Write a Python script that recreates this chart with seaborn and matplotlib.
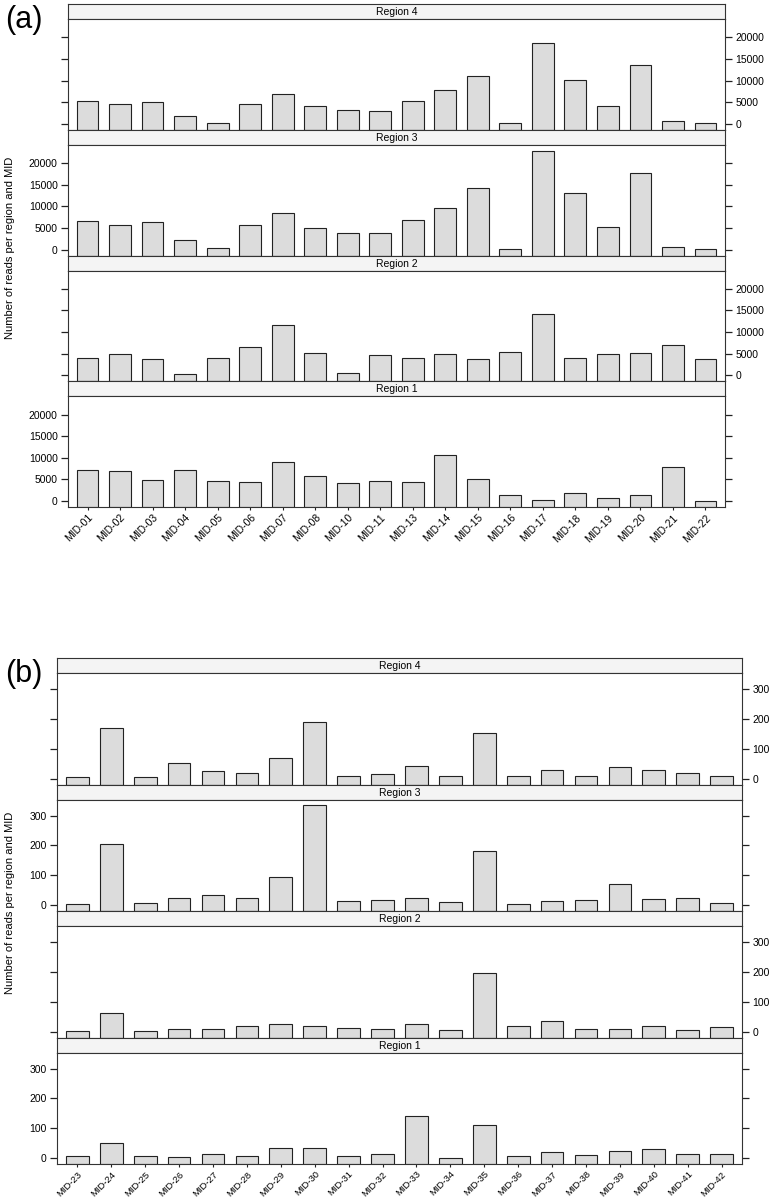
import numpy as np
import pandas as pd
import seaborn as sns
import matplotlib
matplotlib.use("Agg")
import matplotlib.pyplot as plt

# Data (reads per region and MID)
MIDS_A = ["MID-01", "MID-02", "MID-03", "MID-04", "MID-05", "MID-06", "MID-07",
          "MID-08", "MID-10", "MID-11", "MID-13", "MID-14", "MID-15", "MID-16",
          "MID-17", "MID-18", "MID-19", "MID-20", "MID-21", "MID-22"]
REGION4_A = [5170, 4480, 4940, 1780, 150, 4560, 6870, 4170, 3170, 3010,
             5330, 7720, 11040, 150, 18760, 10120, 4090, 13510, 540, 150]
REGION3_A = [6540, 5680, 6300, 2260, 310, 5680, 8560, 5060, 3890, 3890,
             6930, 9730, 14320, 50, 22880, 13000, 5290, 17820, 620, 230]
REGION2_A = [4060, 4840, 3830, 400, 4060, 6480, 11560, 5080, 550, 4690,
             4060, 4840, 3830, 5470, 14220, 4060, 4840, 5230, 7030, 3830]
REGION1_A = [7160, 7000, 4980, 7160, 4750, 4510, 8950, 5910, 4120, 4590,
             4360, 10580, 5140, 1480, 230, 1870, 700, 1480, 7780, 50]

MIDS_B = ["MID-23", "MID-24", "MID-25", "MID-26", "MID-27", "MID-28", "MID-29",
          "MID-30", "MID-31", "MID-32", "MID-33", "MID-34", "MID-35", "MID-36",
          "MID-37", "MID-38", "MID-39", "MID-40", "MID-41", "MID-42"]
REGION4_B = [4, 170, 5, 52, 26, 19, 70, 189, 8, 14,
             43, 10, 152, 10, 28, 10, 40, 28, 17, 8]
REGION3_B = [3, 206, 7, 25, 34, 23, 93, 334, 14, 17,
             25, 10, 182, 3, 13, 17, 70, 19, 23, 7]
REGION2_B = [2, 63, 2, 9, 9, 18, 24, 18, 13, 9,
             26, 4, 197, 18, 34, 9, 9, 18, 6, 15]
REGION1_B = [6, 52, 6, 4, 15, 6, 33, 33, 6, 14,
             141, 1, 110, 6, 21, 9, 24, 30, 14, 12]

REGIONS = ["Region 4", "Region 3", "Region 2", "Region 1"]
YTICKS_A = [0, 5000, 10000, 15000, 20000]
YTICKS_B = [0, 100, 200, 300]

W, H = 771, 1199
FONT = ["Liberation Sans", "DejaVu Sans"]

sns.set_style("ticks")
plt.rcParams["font.family"] = FONT
plt.rcParams["text.color"] = "black"
plt.rcParams["axes.linewidth"] = 0.8

fig = plt.figure(figsize=(W / 100, H / 100), dpi=100)


def px_axes(left, top, right, bottom):
    return fig.add_axes([left / W, 1 - bottom / H, (right - left) / W, (bottom - top) / H])


def draw_part(mids, series, yticks, left, top, right, bottom, tag, xlab_size):
    df = pd.DataFrame({"mid": mids * 4,
                       "region": np.repeat(REGIONS, len(mids)),
                       "reads": np.concatenate(series)})
    vmax = df["reads"].max()
    lo, hi = -0.06 * vmax, 1.06 * vmax
    n = len(mids)
    step = (bottom - top) / 4
    strip_h = 15
    for k, reg in enumerate(REGIONS):
        t = top + k * step
        sax = px_axes(left, t, right, t + strip_h)
        sax.set_facecolor("#f4f4f4")
        sax.set_xticks([])
        sax.set_yticks([])
        for s in sax.spines.values():
            s.set_color("#333333")
            s.set_linewidth(0.8)
        sax.text(0.5, 0.45, reg, ha="center", va="center", fontsize=7.5,
                 transform=sax.transAxes)

        ax = px_axes(left, t + strip_h, right, t + step)
        sub = df[df["region"] == reg]
        sns.barplot(data=sub, x="mid", y="reads", order=mids, ax=ax,
                    color="#dcdcdc", saturation=1, width=0.67,
                    edgecolor="#222222", linewidth=0.8, errorbar=None)
        # lattice-style bars start at the bottom of the panel
        for p in ax.patches:
            top_v = p.get_y() + p.get_height()
            p.set_y(lo)
            p.set_height(top_v - lo)
        ax.set_xlim(-0.6, n - 0.4)
        ax.set_ylim(lo, hi)
        ax.set_xlabel("")
        ax.set_ylabel("")
        for s in ax.spines.values():
            s.set_visible(True)
            s.set_color("#333333")
            s.set_linewidth(0.8)
        ax.set_yticks(yticks)
        ax.set_yticklabels([str(v) for v in yticks])
        label_right = (k % 2 == 0)
        ax.tick_params(axis="y", left=True, right=True, direction="out",
                       length=5, width=0.9, colors="#222222", labelsize=7.5,
                       labelleft=not label_right, labelright=label_right,
                       labelcolor="black", pad=2.5)
        if k == 3:
            ax.set_xticks(range(n))
            ax.set_xticklabels(mids, rotation=45, ha="right",
                               rotation_mode="anchor", fontsize=xlab_size)
            ax.tick_params(axis="x", direction="out", length=2.5, width=0.8,
                           colors="#222222", labelcolor="black", pad=1.5)
        else:
            ax.set_xticks([])

    fig.text(5 / W, 1 - (top + 1) / H, tag, fontsize=22, ha="left", va="top")
    mid_y = (top + bottom) / 2 - 8
    fig.text(10 / W, 1 - mid_y / H, "Number of reads per region and MID",
             rotation=90, ha="center", va="center", fontsize=8)


draw_part(MIDS_A, [REGION4_A, REGION3_A, REGION2_A, REGION1_A], YTICKS_A,
          68, 4, 725, 507, "(a)", 7.5)
draw_part(MIDS_B, [REGION4_B, REGION3_B, REGION2_B, REGION1_B], YTICKS_B,
          57, 658, 742, 1164, "(b)", 6.8)

fig.savefig("out.png", dpi=100)
